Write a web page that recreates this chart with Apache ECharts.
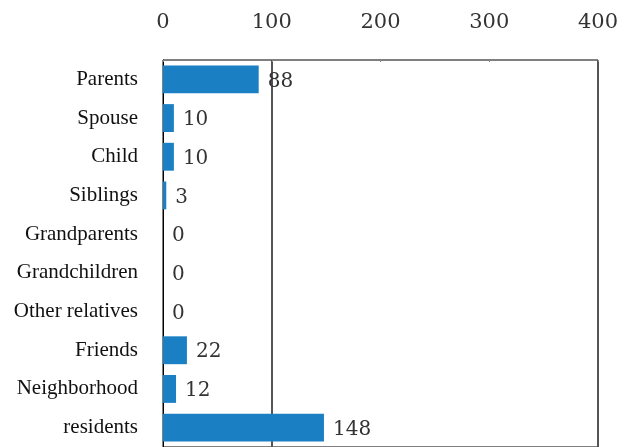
<!DOCTYPE html>
<html>
<head>
<meta charset="utf-8">
<script src="https://cdn.jsdelivr.net/npm/echarts@6/dist/echarts.min.js"></script>
<style>
  html, body { margin: 0; padding: 0; background: #fff; }
  #chart { width: 630px; height: 447px; }
</style>
</head>
<body>
<div id="chart"></div>
<script>
// Category rows, top to bottom
const categories = [
  'Parents', 'Spouse', 'Child', 'Siblings', 'Grandparents',
  'Grandchildren', 'Other relatives', 'Friends', 'Neighborhood', 'residents'
];
// Counts per row
const counts = [88, 10, 10, 3, 0, 0, 0, 22, 12, 148];
// Value axis ticks
const xTicks = [0, 100, 200, 300, 400];

const chart = echarts.init(document.getElementById('chart'));
chart.setOption({
  animation: false,
  backgroundColor: '#ffffff',
  grid: {
    left: 163, right: 32, top: 60, height: 390,
    show: true, borderColor: '#000', borderWidth: 1,
    containLabel: false
  },
  xAxis: {
    type: 'value',
    position: 'top',
    min: xTicks[0],
    max: xTicks[xTicks.length - 1],
    interval: xTicks[1] - xTicks[0],
    axisLine: { show: false },
    axisTick: { show: true, inside: true, length: 2, lineStyle: { color: '#888' } },
    axisLabel: {
      margin: 27,
      fontFamily: 'DejaVu Serif',
      fontSize: 21,
      color: '#333'
    },
    splitLine: {
      show: true,
      lineStyle: { color: ['transparent', '#555', 'transparent', 'transparent', '#555'], width: 2 }
    }
  },
  yAxis: {
    type: 'category',
    data: categories,
    inverse: true,
    axisLine: { show: true, lineStyle: { color: '#000', width: 1 } },
    axisTick: { show: false },
    axisLabel: {
      margin: 25,
      fontFamily: 'Liberation Serif',
      fontSize: 21,
      color: '#111'
    }
  },
  series: [{
    type: 'bar',
    data: counts,
    barCategoryGap: '28%',
    itemStyle: { color: '#1b7fc4' },
    label: {
      show: true,
      position: 'right',
      distance: 9,
      offset: [0, 2],
      fontFamily: 'DejaVu Serif',
      fontSize: 20,
      color: '#333'
    }
  }]
});
</script>
</body>
</html>
